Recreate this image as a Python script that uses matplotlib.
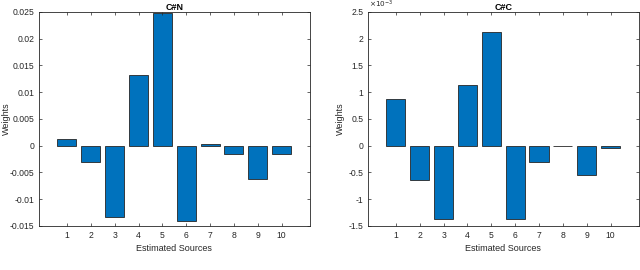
import matplotlib.pyplot as plt

plt.rcParams['font.family'] = ['Liberation Sans', 'DejaVu Sans']

# Data
sources = [1, 2, 3, 4, 5, 6, 7, 8, 9, 10]
weights_cn = [0.0013, -0.0031, -0.0134, 0.0132, 0.0247, -0.0141, 0.0003, -0.0016, -0.0063, -0.0016]
# C#C weights, in units of 1e-3
weights_cc = [0.87, -0.64, -1.37, 1.13, 2.12, -1.37, -0.30, -0.01, -0.54, -0.05]

yticks_cn = [-0.015, -0.01, -0.005, 0, 0.005, 0.01, 0.015, 0.02, 0.025]
ylabels_cn = ['-0.015', '-0.01', '-0.005', '0', '0.005', '0.01', '0.015', '0.02', '0.025']
yticks_cc = [-1.5, -1, -0.5, 0, 0.5, 1, 1.5, 2, 2.5]
ylabels_cc = ['-1.5', '-1', '-0.5', '0', '0.5', '1', '1.5', '2', '2.5']

bar_color = '#0072BD'
edge = '#262626'
axis_color = '#262626'

fig = plt.figure(figsize=(6.4, 2.7), dpi=100)
ax1 = fig.add_axes([0.061, 0.163, 0.423, 0.793])
ax2 = fig.add_axes([0.575, 0.163, 0.423, 0.793])

panels = [
    (ax1, weights_cn, 'C#N', yticks_cn, ylabels_cn, (-0.015, 0.025), -0.105),
    (ax2, weights_cc, 'C#C', yticks_cc, ylabels_cc, (-1.5, 2.5), -0.085),
]

for ax, vals, title, yt, yl, ylim, ylab_x in panels:
    ax.bar(sources, vals, width=0.8, color=bar_color, edgecolor=edge, linewidth=0.6)
    ax.set_xlim(-0.17, 11.18)
    ax.set_ylim(*ylim)
    ax.set_xticks(sources)
    ax.set_xticklabels([str(s) for s in sources])
    ax.set_yticks(yt)
    ax.set_yticklabels(yl)
    ax.tick_params(direction='in', length=2.5, width=0.5, labelsize=6.2,
                   colors=axis_color, top=True, right=True, pad=3.5)
    for s in ax.spines.values():
        s.set_linewidth(0.6)
        s.set_color(axis_color)
    ax.set_title(title, fontsize=6.5, fontweight='bold', pad=1.5, color='black')
    ax.set_xlabel('Estimated Sources', fontsize=6.5, color=axis_color, labelpad=3)
    ax.set_ylabel('Weights', fontsize=6.5, color=axis_color)
    ax.yaxis.set_label_coords(ylab_x, 0.5)

fig.text(0.577, 0.962, r'$\times 10^{-3}$', fontsize=5.2,
         color=axis_color, ha='left', va='bottom')

fig.savefig('out.png', dpi=100)
